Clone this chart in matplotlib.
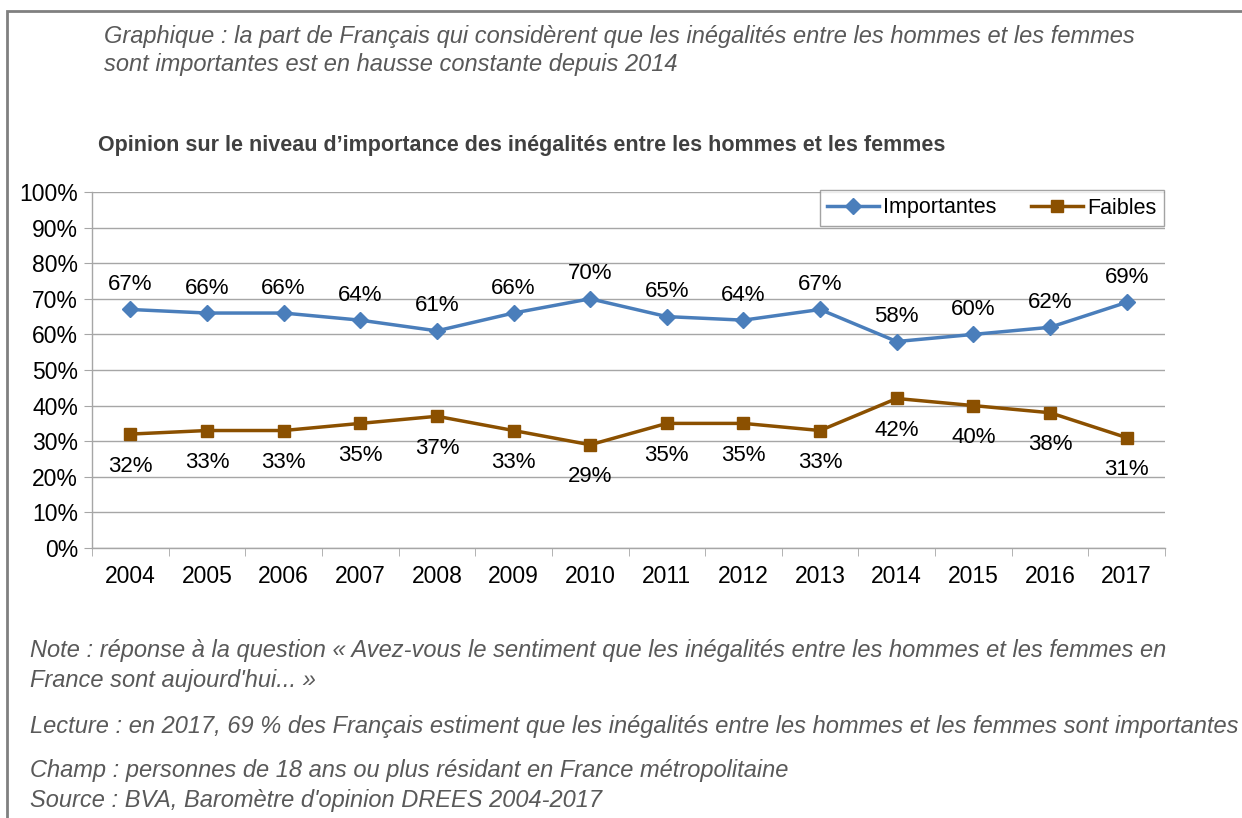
import matplotlib.pyplot as plt
from matplotlib.lines import Line2D
from matplotlib.patches import Rectangle

years = ['2004', '2005', '2006', '2007', '2008', '2009', '2010',
         '2011', '2012', '2013', '2014', '2015', '2016', '2017']
importantes = [67, 66, 66, 64, 61, 66, 70, 65, 64, 67, 58, 60, 62, 69]
faibles = [32, 33, 33, 35, 37, 33, 29, 35, 35, 33, 42, 40, 38, 31]

W, H = 1242, 818
BLUE = '#4A7EBB'
BROWN = '#8B5000'
GRID = '#A6A6A6'
TXT = '#595959'

plt.rcParams['font.family'] = ['Liberation Sans', 'DejaVu Sans']


def fx(px):
    return px / W


def fy(py):
    return 1 - py / H


def main():
    fig = plt.figure(figsize=(W / 100, H / 100), dpi=100)
    ax = fig.add_axes([fx(92), fy(548), fx(1165) - fx(92), fy(192) - fy(548)])

    x = list(range(len(years)))
    ax.plot(x, importantes, color=BLUE, lw=2.5, marker='D', ms=8,
            label='Importantes', zorder=3)
    ax.plot(x, faibles, color=BROWN, lw=2.5, marker='s', ms=9,
            label='Faibles', zorder=3)

    for i, v in enumerate(importantes):
        ax.annotate(f'{v}%', (i, v), xytext=(0, 18), textcoords='offset points',
                    ha='center', va='center', fontsize=16, color='black')
    for i, v in enumerate(faibles):
        ax.annotate(f'{v}%', (i, v), xytext=(0, -23), textcoords='offset points',
                    ha='center', va='center', fontsize=16, color='black')

    ax.set_xlim(-0.5, len(years) - 0.5)
    ax.set_ylim(0, 100)
    ax.set_yticks(range(0, 101, 10))
    ax.set_yticklabels([f'{t}%' for t in range(0, 101, 10)], fontsize=16.5)
    ax.set_xticks(x)
    ax.set_xticklabels(years, fontsize=16.5)
    ax.set_xticks([i - 0.5 for i in range(len(years) + 1)], minor=True)
    ax.tick_params(axis='x', which='major', length=0, pad=12)
    ax.tick_params(axis='x', which='minor', length=6, color=GRID, direction='out')
    ax.tick_params(axis='y', length=6, color=GRID, pad=4)

    ax.grid(axis='y', color=GRID, lw=1)
    ax.set_axisbelow(True)
    for s in ['top', 'right']:
        ax.spines[s].set_visible(False)
    for s in ['left', 'bottom']:
        ax.spines[s].set_color(GRID)
        ax.spines[s].set_linewidth(1)

    handles = [Line2D([], [], color=BLUE, lw=2.5, marker='D', ms=8),
               Line2D([], [], color=BROWN, lw=2.5, marker='s', ms=9)]
    leg = fig.legend(handles, ['Importantes', 'Faibles'], ncol=2, fontsize=15.5,
                     loc='center', bbox_to_anchor=(fx(992), fy(208)),
                     frameon=True, fancybox=False, handlelength=2.4,
                     handletextpad=0.2, columnspacing=1.6, borderpad=0.35)
    leg.get_frame().set_edgecolor('#8C8C8C')
    leg.get_frame().set_linewidth(1)

    # outer frame
    fig.patches.append(Rectangle((fx(7), fy(W)), fx(W + 50), fy(11) - fy(W),
                                 transform=fig.transFigure, fill=False,
                                 edgecolor='#808080', lw=2))

    fig.text(fx(104), fy(36), 'Graphique : la part de Français qui considèrent que '
             'les inégalités entre les hommes et les femmes',
             fontsize=17, style='italic', color=TXT, va='center')
    fig.text(fx(104), fy(64), 'sont importantes est en hausse constante depuis 2014',
             fontsize=17, style='italic', color=TXT, va='center')
    fig.text(fx(98), fy(145), 'Opinion sur le niveau d\u2019importance des inégalités '
             'entre les hommes et les femmes',
             fontsize=15.5, weight='bold', color='#404040', va='center')

    notes = [
        (651, 'Note : réponse à la question « Avez-vous le sentiment que les inégalités '
              'entre les hommes et les femmes en'),
        (680, 'France sont aujourd\'hui... »'),
        (726, 'Lecture : en 2017, 69 % des Français estiment que les inégalités entre '
              'les hommes et les femmes sont importantes'),
        (771, 'Champ : personnes de 18 ans ou plus résidant en France métropolitaine'),
        (800, 'Source : BVA, Baromètre d\'opinion DREES 2004-2017'),
    ]
    for py, t in notes:
        fig.text(fx(30), fy(py), t, fontsize=17, style='italic', color=TXT,
                 va='center')

    fig.savefig('out.png', dpi=100)


if __name__ == '__main__':
    main()
